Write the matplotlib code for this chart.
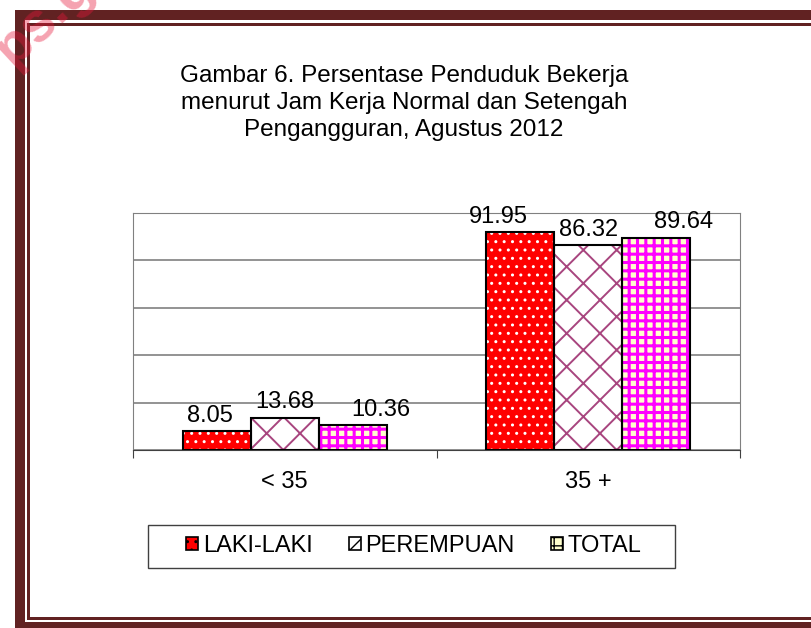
import numpy as np
import matplotlib
matplotlib.use("Agg")
import matplotlib.pyplot as plt
from matplotlib.patches import Rectangle, Patch

plt.rcParams['font.family'] = ['Liberation Sans', 'DejaVu Sans']

# data
categories = ['< 35', '35 +']
series = ['LAKI-LAKI', 'PEREMPUAN', 'TOTAL']
laki = [8.05, 91.95]
perempuan = [13.68, 86.32]
total = [10.36, 89.64]

title = ("Gambar 6. Persentase Penduduk Bekerja\n"
         "menurut Jam Kerja Normal dan Setengah\n"
         "Pengangguran, Agustus 2012")

# style per series: face, hatch, hatch color, hatch linewidth
styles = [
    ('#FF0000', '..', 'white', 1.0),
    ('white', 'x', '#A8457E', 1.4),
    ('#FFFFCC', '++', '#FF00FF', 2.2),
]
# excel-ish label nudges (points) for each series
label_dx = [[-5, -16], [0, 0], [20, 20]]

W, H = 811, 628
fig = plt.figure(figsize=(W / 100, H / 100), dpi=100)


def fx(px):
    return px / W


def fy(py):
    return 1 - py / H


def box(x0, y0, x1, y1, **kw):
    fig.add_artist(Rectangle((fx(x0), fy(y1)), (x1 - x0) / W, (y1 - y0) / H,
                             transform=fig.transFigure, **kw))


# double maroon border (left, top, bottom)
border = '#612222'
for r in [(15, 10, 25, 640), (15, 10, 820, 20), (15, 622, 820, 640),
          (27, 23, 30, 620), (27, 23, 820, 26), (27, 617, 820, 620)]:
    box(*r, color=border, lw=0)

# watermark
fig.text(fx(12), fy(67), 'ps.go.id', fontsize=40, fontweight='bold',
         color='#E8173A', alpha=0.4, rotation=43, rotation_mode='anchor',
         ha='left', va='baseline')

fig.text(0.498, fy(103), title, ha='center', va='center', fontsize=17.5,
         linespacing=1.28)

ax = fig.add_axes([fx(133), fy(450), fx(740) - fx(133), fy(213) - fy(450)])
x = np.arange(len(categories))
w = 0.224
for i, (vals, name) in enumerate(zip([laki, perempuan, total], series)):
    face, hatch, hcol, hlw = styles[i]
    pos = x + (i - 1) * w
    with plt.rc_context({'hatch.linewidth': hlw}):
        b1 = ax.bar(pos, vals, w, color=face, hatch=hatch, edgecolor=hcol,
                    linewidth=0, zorder=2)
        for p in b1:
            if hasattr(p, 'set_hatch_linewidth'):
                p.set_hatch_linewidth(hlw)
    ax.bar(pos, vals, w, fill=False, edgecolor='black', linewidth=1.5, zorder=3)
    for j, (px, v) in enumerate(zip(pos, vals)):
        ax.annotate(f'{v:.2f}', (px, v), xytext=(label_dx[i][j], 3),
                    textcoords='offset points', ha='center', va='bottom',
                    fontsize=17, zorder=4)

ax.set_xlim(-0.5, 1.5)
ax.set_ylim(0, 100)
ax.set_yticks(np.arange(0, 101, 20))
ax.yaxis.grid(True, color='#808080', lw=1.2, zorder=0)
ax.set_axisbelow(True)
ax.tick_params(axis='y', length=0, labelleft=False)
ax.set_xticks([-0.5, 0.5, 1.5])
ax.set_xticklabels([])
ax.tick_params(axis='x', which='major', length=6, color='#404040')
ax.set_xticks(x, minor=True)
ax.set_xticklabels(categories, minor=True, fontsize=17)
ax.tick_params(axis='x', which='minor', length=0, pad=15)
for s in ['left', 'right', 'top']:
    ax.spines[s].set_color('#808080')
ax.spines['bottom'].set_color('#404040')

# legend box drawn separately, entries centred inside
box(148, 525, 675, 568, facecolor='white', edgecolor='#404040', lw=1.0,
    zorder=4)
handles = [Patch(facecolor=st[0], hatch=st[1], edgecolor='black', lw=1.2)
           for st in styles]
leg = fig.legend(handles, series, loc='center', ncol=3,
                 bbox_to_anchor=(fx(414), fy(546)), fontsize=17, frameon=False,
                 handlelength=0.5, handleheight=0.5, handletextpad=0.2,
                 columnspacing=1.55, borderpad=0.3)
leg.set_zorder(5)

fig.savefig('out.png', dpi=100)
